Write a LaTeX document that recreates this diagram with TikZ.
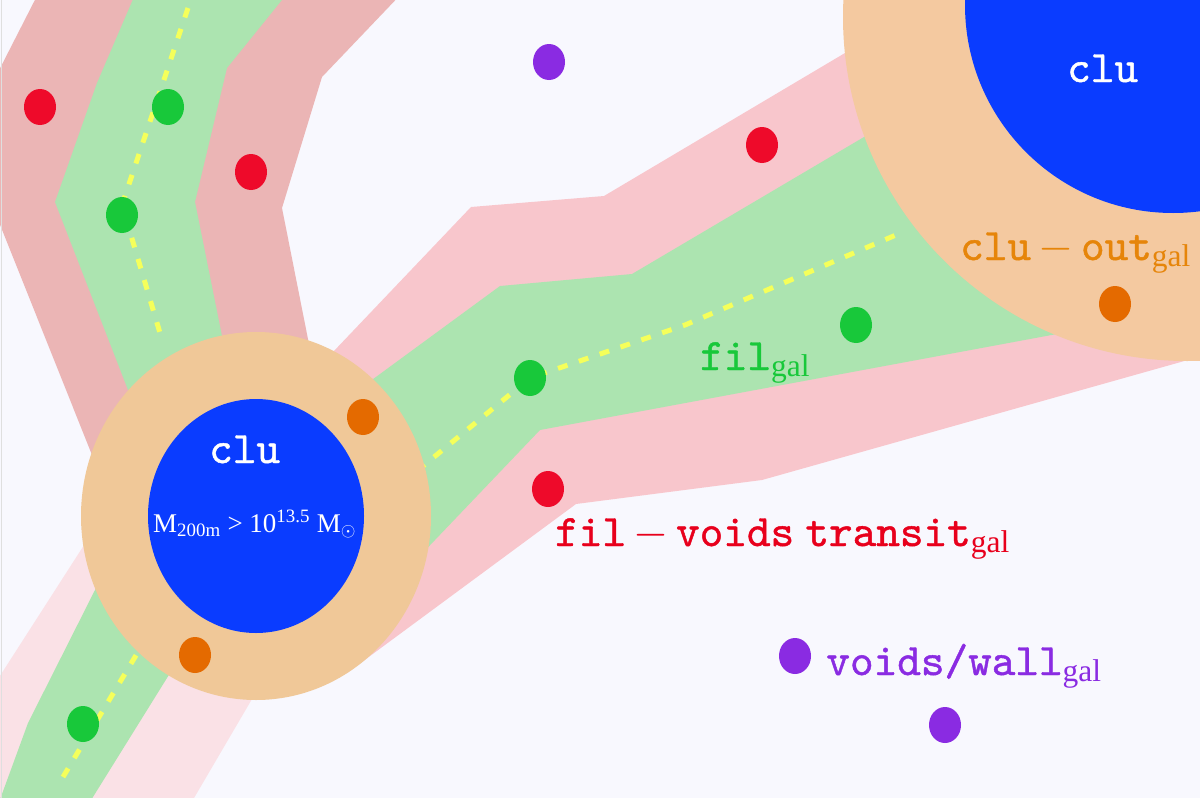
\RequirePackage{fix-cm}
\documentclass[tikz,border=0pt]{standalone}
\usepackage{fontspec}
\setmainfont{Liberation Serif}
\newfontfamily\galtt{lmmono10-regular.otf}[FakeBold=1]
\usetikzlibrary{positioning, shapes.geometric}

\definecolor{bgvoid}{HTML}{F8F8FE}
\definecolor{pinkdusty}{HTML}{EBB5B5}
\definecolor{pinkmid}{HTML}{F8C6CC}
\definecolor{pinklight}{HTML}{FAE1E6}
\definecolor{filband}{HTML}{ACE4B0}
\definecolor{ringL}{HTML}{F0C898}
\definecolor{ringR}{HTML}{F4C9A0}
\definecolor{clublue}{HTML}{0A3CFF}
\definecolor{spine}{HTML}{F5FF5A}
\definecolor{galred}{HTML}{EE0A2A}
\definecolor{galgreen}{HTML}{18C83A}
\definecolor{galorange}{HTML}{E46A00}
\definecolor{galpurple}{HTML}{8A2BE2}
\definecolor{txtred}{HTML}{E8001C}
\definecolor{txtorange}{HTML}{E6850A}

\tikzset{galdot/.style={ellipse, fill=#1, minimum width=32pt, minimum height=36pt, inner sep=0pt}}
\tikzset{spineline/.style={draw=spine, line width=5pt, dash pattern=on 10pt off 12pt}}
\tikzset{lab/.style={inner sep=0pt, anchor=base west, font=\fontsize{45}{50}\selectfont\galtt}}
\tikzset{inlab/.style={lab, text=white}}

\begin{document}
\begin{tikzpicture}[x=1pt, y=-1pt]
	\useasboundingbox (0,0) rectangle (1200,798);
	\fill[bgvoid] (0,0) rectangle (1200,798);
	\begin{scope}
		\clip (0,0) rectangle (1200,798);
		% filaments, upper left
		\fill[pinkdusty] (40,-10) -- (-35,137) -- (110,500) -- (330,450) -- (282,208) -- (322,77) -- (405,-10) -- cycle;
		\fill[filband] (137,-10) -- (97,83) -- (55,202) -- (163,480) -- (251,480) -- (195,202) -- (227,68) -- (290,-10) -- cycle;
		% lower left
		\fill[pinklight] (113,500) -- (-20,707) -- (-20,810) -- (187,810) -- (310,600) -- cycle;
		\fill[filband] (130,520) -- (95,590) -- (28,723) -- (-2,805) -- (88,805) -- (167,678) -- (216,600) -- cycle;
		% between the clusters
		\fill[pinkmid] (255,516) -- (333,352) -- (471,207) -- (604,196) -- (845,53) -- (935,0) -- (1220,0) -- (1220,351) -- (1195,358) -- (762,480) -- (576,504) -- (347,673) -- cycle;
		\fill[filband] (320,418) -- (500,286) -- (632,274) -- (864,137) -- (1000,57) -- (1100,326) -- (540,430) -- (330,650) -- cycle;

		\draw[spineline] (188,8) -- (122,205) -- (160,333);
		\draw[spineline] (400,485) -- (530,378) -- (685,325) -- (903,232);
		\draw[spineline] (63,777) -- (150,632);

		% clusters
		\fill[ringL] (256,516) ellipse [x radius=175pt, y radius=184pt];
		\fill[clublue] (256,516) ellipse [x radius=108pt, y radius=117pt];
		\fill[ringR] (1187,17) circle [radius=344pt];
		\fill[clublue] (1173,5) circle [radius=208pt];
	\end{scope}
	\draw[gray!25, line width=1.2pt] (1.5,0) -- (1.5,798);

	\node[galdot=galred] (r1) at (40,107) {};
	\node[galdot=galgreen] (g1) at (168,107) {};
	\node[galdot=galgreen] (g2) at (122,215) {};
	\node[galdot=galred] (r2) at (251,172) {};
	\node[galdot=galpurple] (v1) at (549,62) {};
	\node[galdot=galred] (r3) at (762,145) {};
	\node[galdot=galgreen] (g3) at (530,378) {};
	\node[galdot=galgreen] (g4) at (856,325) {};
	\node[galdot=galorange] (o1) at (363,417) {};
	\node[galdot=galorange] (o2) at (195,655) {};
	\node[galdot=galorange] (o3) at (1115,304) {};
	\node[galdot=galred] (r4) at (548,489) {};
	\node[galdot=galgreen] (g5) at (83,724) {};
	\node[galdot=galpurple] (v2) at (795,656) {};
	\node[galdot=galpurple] (v3) at (945,725) {};

	\node[inlab] (cluR) at (1067,82) {clu};
	\node[inlab] (cluL) at (209,463) {clu};
	\node[inlab, font=\fontsize{27}{31}\selectfont] (mass) at (153,532) {M\textsubscript{200m} > 10\textsuperscript{13.5} M$_\odot$};
	\node[lab, text=txtorange] (outlab) at (960,260) {clu\,$-$\,out\textsubscript{\rmfamily gal}};
	\node[lab, text=galgreen] (fillab) at (700,370) {fil\textsubscript{\rmfamily gal}};
	\node[lab, text=txtred] (translab) at (555,546) {fil\,$-$\,voids\hspace{.25em}transit\textsubscript{\rmfamily gal}};
	\node[lab, text=galpurple, right=15pt of v2, anchor=base west, yshift=-19pt] (voidlab) {voids/wall\textsubscript{\rmfamily gal}};
\end{tikzpicture}
\end{document}
